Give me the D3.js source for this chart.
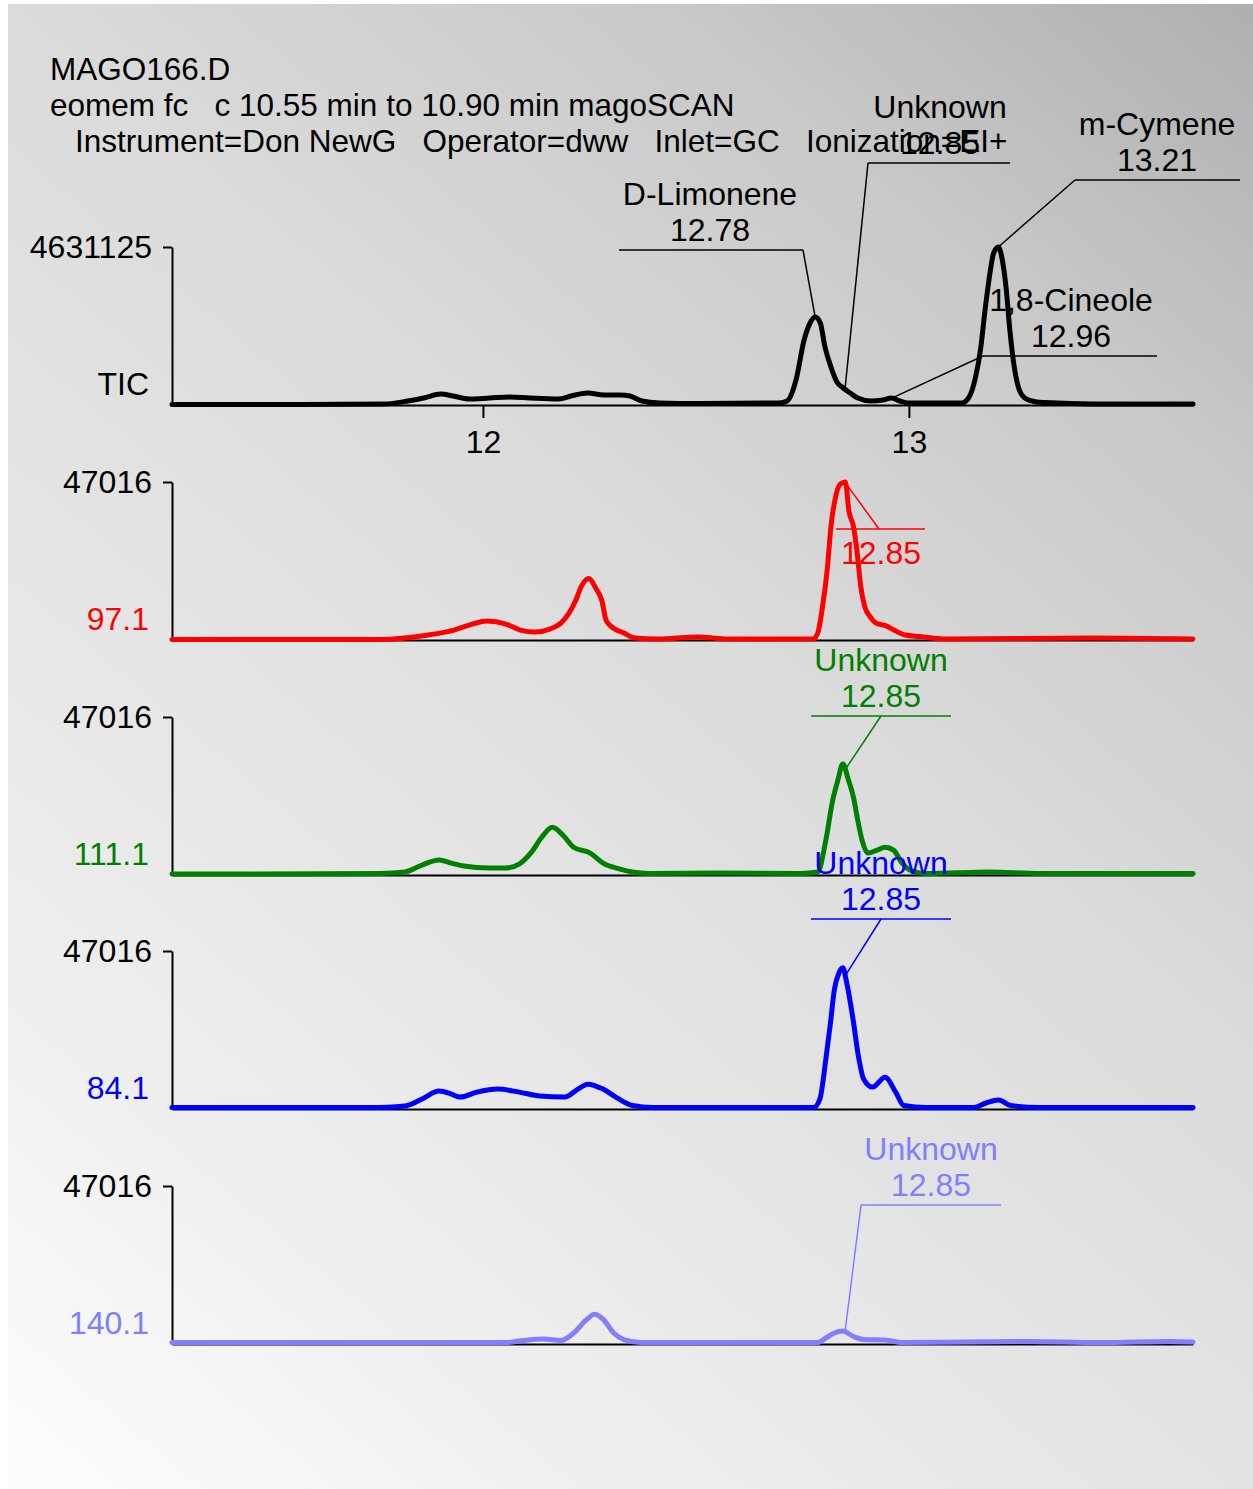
<!DOCTYPE html>
<html>
<head>
<meta charset="utf-8">
<script src="https://cdn.jsdelivr.net/npm/d3@7"></script>
<style>
  html, body { margin: 0; padding: 0; background: #ffffff; }
  svg { display: block; }
  text { font-family: "Liberation Sans", Arial, sans-serif; font-size: 32px; }
  text.header { font-size: 31.5px; }
</style>
</head>
<body>
<svg id="chart" width="1253" height="1489"></svg>
<script>
// ---- Header ----
const headerLines = [
  "MAGO166.D",
  "eomem fc   c 10.55 min to 10.90 min magoSCAN",
  "Instrument=Don NewG   Operator=dww   Inlet=GC   Ionization=EI+"
];

// ---- Retention-time axis ----
const timeDomain = [11.27, 13.667];
const timeTicks = [12, 13];

// ---- Trace labels and full-scale abundances ----
const traceNames = ["TIC", "97.1", "111.1", "84.1", "140.1"];
const traceMax = [4631125, 47016, 47016, 47016, 47016];

// ---- TIC ----
const ticTime = [11.270, 11.570, 11.768, 11.824, 11.861, 11.901, 11.930, 11.967, 12.016, 12.063,
  12.110, 12.178, 12.207, 12.246, 12.284, 12.322, 12.345, 12.373, 12.415, 12.509,
  12.695, 12.714, 12.735, 12.754, 12.768, 12.780, 12.792, 12.803, 12.817, 12.831,
  12.846, 12.862, 12.880, 12.911, 12.939, 12.959, 12.979, 12.998, 13.056, 13.124,
  13.140, 13.155, 13.169, 13.178, 13.188, 13.199, 13.210, 13.218, 13.228, 13.237,
  13.246, 13.257, 13.272, 13.300, 13.350, 13.448, 13.667];
const ticAbund = [15000, 15000, 29000, 117000, 205000, 322000, 264000, 176000, 205000, 234000,
  205000, 176000, 264000, 352000, 293000, 293000, 264000, 117000, 59000, 44000,
  59000, 117000, 733000, 1905000, 2404000, 2579000, 2404000, 1700000, 1114000, 674000,
  498000, 352000, 205000, 117000, 147000, 205000, 117000, 59000, 59000, 59000,
  205000, 733000, 1700000, 2697000, 3664000, 4455000, 4631125, 4338000, 3459000, 2198000,
  1231000, 528000, 205000, 88000, 59000, 29000, 29000];

// ---- Ion 97.1 ----
const ion97Time = [11.270, 11.758, 11.871, 11.932, 11.975, 12.009, 12.054, 12.088, 12.122, 12.157,
  12.183, 12.202, 12.218, 12.231, 12.249, 12.265, 12.279, 12.289, 12.300, 12.331,
  12.357, 12.410, 12.505, 12.575, 12.775, 12.786, 12.796, 12.809, 12.817, 12.826,
  12.839, 12.851, 12.859, 12.870, 12.878, 12.887, 12.896, 12.908, 12.923, 12.948,
  12.965, 12.991, 13.026, 13.087, 13.437, 13.667];
const ion97Abund = [150, 150, 1480, 2960, 4730, 5620, 4730, 2960, 2370, 3250,
  5030, 7980, 11830, 15970, 18330, 15380, 11830, 5910, 4140, 2070,
  590, 300, 890, 300, 300, 2070, 8870, 21880, 33710, 41400,
  46420, 47016, 38440, 33710, 26610, 15970, 10050, 7100, 5030, 4140,
  2960, 1480, 1030, 300, 590, 300];

// ---- Ion 111.1 ----
const ion111Time = [11.270, 11.758, 11.817, 11.857, 11.897, 11.926, 11.955, 12.014, 12.054, 12.085,
  12.114, 12.138, 12.163, 12.188, 12.213, 12.252, 12.282, 12.322, 12.351, 12.390,
  12.549, 12.746, 12.786, 12.805, 12.821, 12.833, 12.845, 12.857, 12.870, 12.880,
  12.890, 12.904, 12.925, 12.944, 12.964, 12.984, 13.008, 13.042, 13.190, 13.308,
  13.667];
const ion111Abund = [300, 440, 890, 2960, 4440, 3550, 2660, 2070, 2070, 3250,
  6800, 11240, 14190, 11830, 8280, 6510, 3550, 1770, 890, 440,
  590, 440, 890, 10350, 22180, 28090, 33120, 28680, 23060, 16260,
  10350, 6510, 7390, 8280, 7390, 3550, 1180, 440, 890, 440,
  440];

// ---- Ion 84.1 ----
const ion84Time = [11.270, 11.758, 11.817, 11.857, 11.897, 11.926, 11.946, 11.986, 12.035, 12.085,
  12.134, 12.192, 12.223, 12.246, 12.282, 12.312, 12.351, 12.400, 12.776, 12.791,
  12.805, 12.816, 12.825, 12.836, 12.845, 12.854, 12.870, 12.880, 12.894, 12.915,
  12.944, 12.969, 12.988, 13.042, 13.152, 13.181, 13.211, 13.239, 13.308, 13.667];
const ion84Abund = [440, 440, 890, 2960, 5330, 4440, 3550, 5030, 5920, 5030,
  3850, 3550, 5920, 7400, 5920, 3550, 1040, 440, 440, 2960,
  14800, 25750, 35520, 40550, 42030, 37590, 25750, 16870, 8880, 6510,
  9470, 5030, 1040, 440, 440, 1780, 2660, 1040, 440, 440];

// ---- Ion 140.1 ----
const ion140Time = [11.270, 12.054, 12.085, 12.143, 12.183, 12.213, 12.242, 12.262, 12.282, 12.307,
  12.331, 12.371, 12.786, 12.805, 12.825, 12.845, 12.870, 12.894, 12.944, 12.984,
  13.279, 13.448, 13.613, 13.667];
const ion140Abund = [440, 440, 890, 1480, 1040, 3260, 7100, 8880, 7400, 3260,
  1330, 440, 440, 1780, 3260, 3850, 2220, 1330, 1180, 440,
  740, 440, 740, 590];

// ---- Peak annotations (name, retention time) per trace ----
const ticPeakNames = ["D-Limonene", "Unknown", "m-Cymene", "1,8-Cineole"];
const ticPeakTimes = [12.78, 12.85, 13.21, 12.96];
const ionPeakName = "Unknown";
const ionPeakTime = 12.85;

// ---------------------------------------------------------------
// Layout and styling
const W = 1253, H = 1489;
const plotLeft = 172, plotRight = 1193;
const panelBase = [405, 640, 875, 1109, 1344];
const panelHeight = 158;
const traceColors = ["#000000", "#ff0000", "#008000", "#0000ff", "#8080ff"];
const traces = [
  { time: ticTime, abund: ticAbund },
  { time: ion97Time, abund: ion97Abund },
  { time: ion111Time, abund: ion111Abund },
  { time: ion84Time, abund: ion84Abund },
  { time: ion140Time, abund: ion140Abund }
];

// label placement: text centre, shelf line, knee of the leader
const ticLabelLayout = [
  { cx: 710, shelfY: 250, x1: 619, x2: 803, knee: 803 },
  { cx: 940, shelfY: 163, x1: 868, x2: 1010, knee: 868 },
  { cx: 1157, shelfY: 180, x1: 1075, x2: 1240, knee: 1075 },
  { cx: 1071, shelfY: 356, x1: 983, x2: 1157, knee: 983 }
];
const ionLabelLayout = [
  null,
  { cx: 881, shelfY: 529, x1: 836, x2: 925, knee: 879, below: true },
  { cx: 881, shelfY: 716, x1: 811, x2: 951, knee: 881 },
  { cx: 881, shelfY: 919, x1: 811, x2: 951, knee: 881 },
  { cx: 931, shelfY: 1205, x1: 861, x2: 1001, knee: 861 }
];

const svg = d3.select("#chart");

// background panel with diagonal grey fade
const defs = svg.append("defs");
const grad = defs.append("linearGradient")
  .attr("id", "bgFade")
  .attr("gradientUnits", "userSpaceOnUse")
  .attr("x1", W).attr("y1", 0).attr("x2", 0).attr("y2", H);
[[0, "#afafaf"], [0.2, "#c9c9c9"], [0.42, "#dbdbdb"], [0.58, "#e3e3e3"], [0.8, "#efefef"], [1, "#fdfdfd"]]
  .forEach(([o, c]) => grad.append("stop").attr("offset", o).attr("stop-color", c));
svg.append("rect")
  .attr("x", 8).attr("y", 4).attr("width", W - 8).attr("height", H - 4)
  .attr("fill", "url(#bgFade)");

// header
svg.selectAll("text.header")
  .data(headerLines)
  .join("text")
  .attr("class", "header")
  .attr("x", (d, i) => i === 2 ? 75 : 50)
  .attr("y", (d, i) => 80 + i * 36)
  .style("white-space", "pre")
  .attr("fill", "#000")
  .text(d => d);

const x = d3.scaleLinear().domain(timeDomain).range([plotLeft, plotRight]);

function valueAt(times, vals, t) {
  const i = d3.bisectLeft(times, t);
  if (i <= 0) return vals[0];
  if (i >= times.length) return vals[vals.length - 1];
  const f = (t - times[i - 1]) / (times[i] - times[i - 1]);
  return vals[i - 1] + f * (vals[i] - vals[i - 1]);
}

function styleAxis(g) {
  g.attr("font-size", null).attr("font-family", null);
  g.selectAll("path.domain").attr("stroke", "#000").attr("stroke-width", 2);
  g.selectAll(".tick line").attr("stroke", "#000").attr("stroke-width", 2);
  g.selectAll(".tick text").attr("fill", "#000");
}

function drawLabel(g, color, layout, name, time, px, py) {
  g.append("line")
    .attr("x1", layout.x1).attr("x2", layout.x2)
    .attr("y1", layout.shelfY).attr("y2", layout.shelfY)
    .attr("stroke", color).attr("stroke-width", 1.5);
  g.append("line")
    .attr("x1", layout.knee).attr("y1", layout.shelfY)
    .attr("x2", px).attr("y2", py)
    .attr("stroke", color).attr("stroke-width", 1.5);
  const timeText = d3.format(".2f")(time);
  if (layout.below) {
    g.append("text").attr("x", layout.cx).attr("y", layout.shelfY + 35)
      .attr("text-anchor", "middle").attr("fill", color).text(timeText);
  } else {
    g.append("text").attr("x", layout.cx).attr("y", layout.shelfY - 45)
      .attr("text-anchor", "middle").attr("fill", color).text(name);
    g.append("text").attr("x", layout.cx).attr("y", layout.shelfY - 9)
      .attr("text-anchor", "middle").attr("fill", color).text(timeText);
  }
}

traces.forEach((tr, k) => {
  const base = panelBase[k];
  const y = d3.scaleLinear().domain([0, traceMax[k]]).range([base, base - panelHeight]);
  const g = svg.append("g").attr("class", "panel");
  const color = traceColors[k];

  // x axis (retention-time ticks only under the TIC)
  const xAxis = d3.axisBottom(x).tickFormat(d3.format("d"));
  if (k === 0) xAxis.tickValues(timeTicks).tickSize(13).tickPadding(12);
  else xAxis.tickValues([]);
  xAxis.tickSizeOuter(0);
  g.append("g").attr("transform", `translate(0,${base})`).call(xAxis).call(styleAxis);

  // y axis with full-scale tick
  const yAxis = d3.axisLeft(y).tickValues([traceMax[k]]).tickSize(9)
    .tickPadding(11).tickFormat(d3.format("d")).tickSizeOuter(0);
  g.append("g").attr("transform", `translate(${plotLeft},0)`).call(yAxis).call(styleAxis);

  // trace name
  g.append("text")
    .attr("x", 149).attr("y", base - 10.5)
    .attr("text-anchor", "end").attr("fill", color)
    .text(traceNames[k]);

  // trace
  const pts = tr.time.map((t, i) => [t, tr.abund[i]]);
  const line = d3.line().x(d => x(d[0])).y(d => y(d[1])).curve(d3.curveMonotoneX);
  g.append("path").datum(pts)
    .attr("d", line)
    .attr("fill", "none")
    .attr("stroke", color)
    .attr("stroke-width", 5)
    .attr("stroke-linejoin", "round")
    .attr("stroke-linecap", "round");

  // peak labels
  if (k === 0) {
    ticPeakTimes.forEach((t, j) => {
      drawLabel(g, color, ticLabelLayout[j], ticPeakNames[j], t,
        x(t), y(valueAt(tr.time, tr.abund, t)));
    });
  } else {
    drawLabel(g, color, ionLabelLayout[k], ionPeakName, ionPeakTime,
      x(ionPeakTime), y(valueAt(tr.time, tr.abund, ionPeakTime)));
  }
});
</script>
</body>
</html>
